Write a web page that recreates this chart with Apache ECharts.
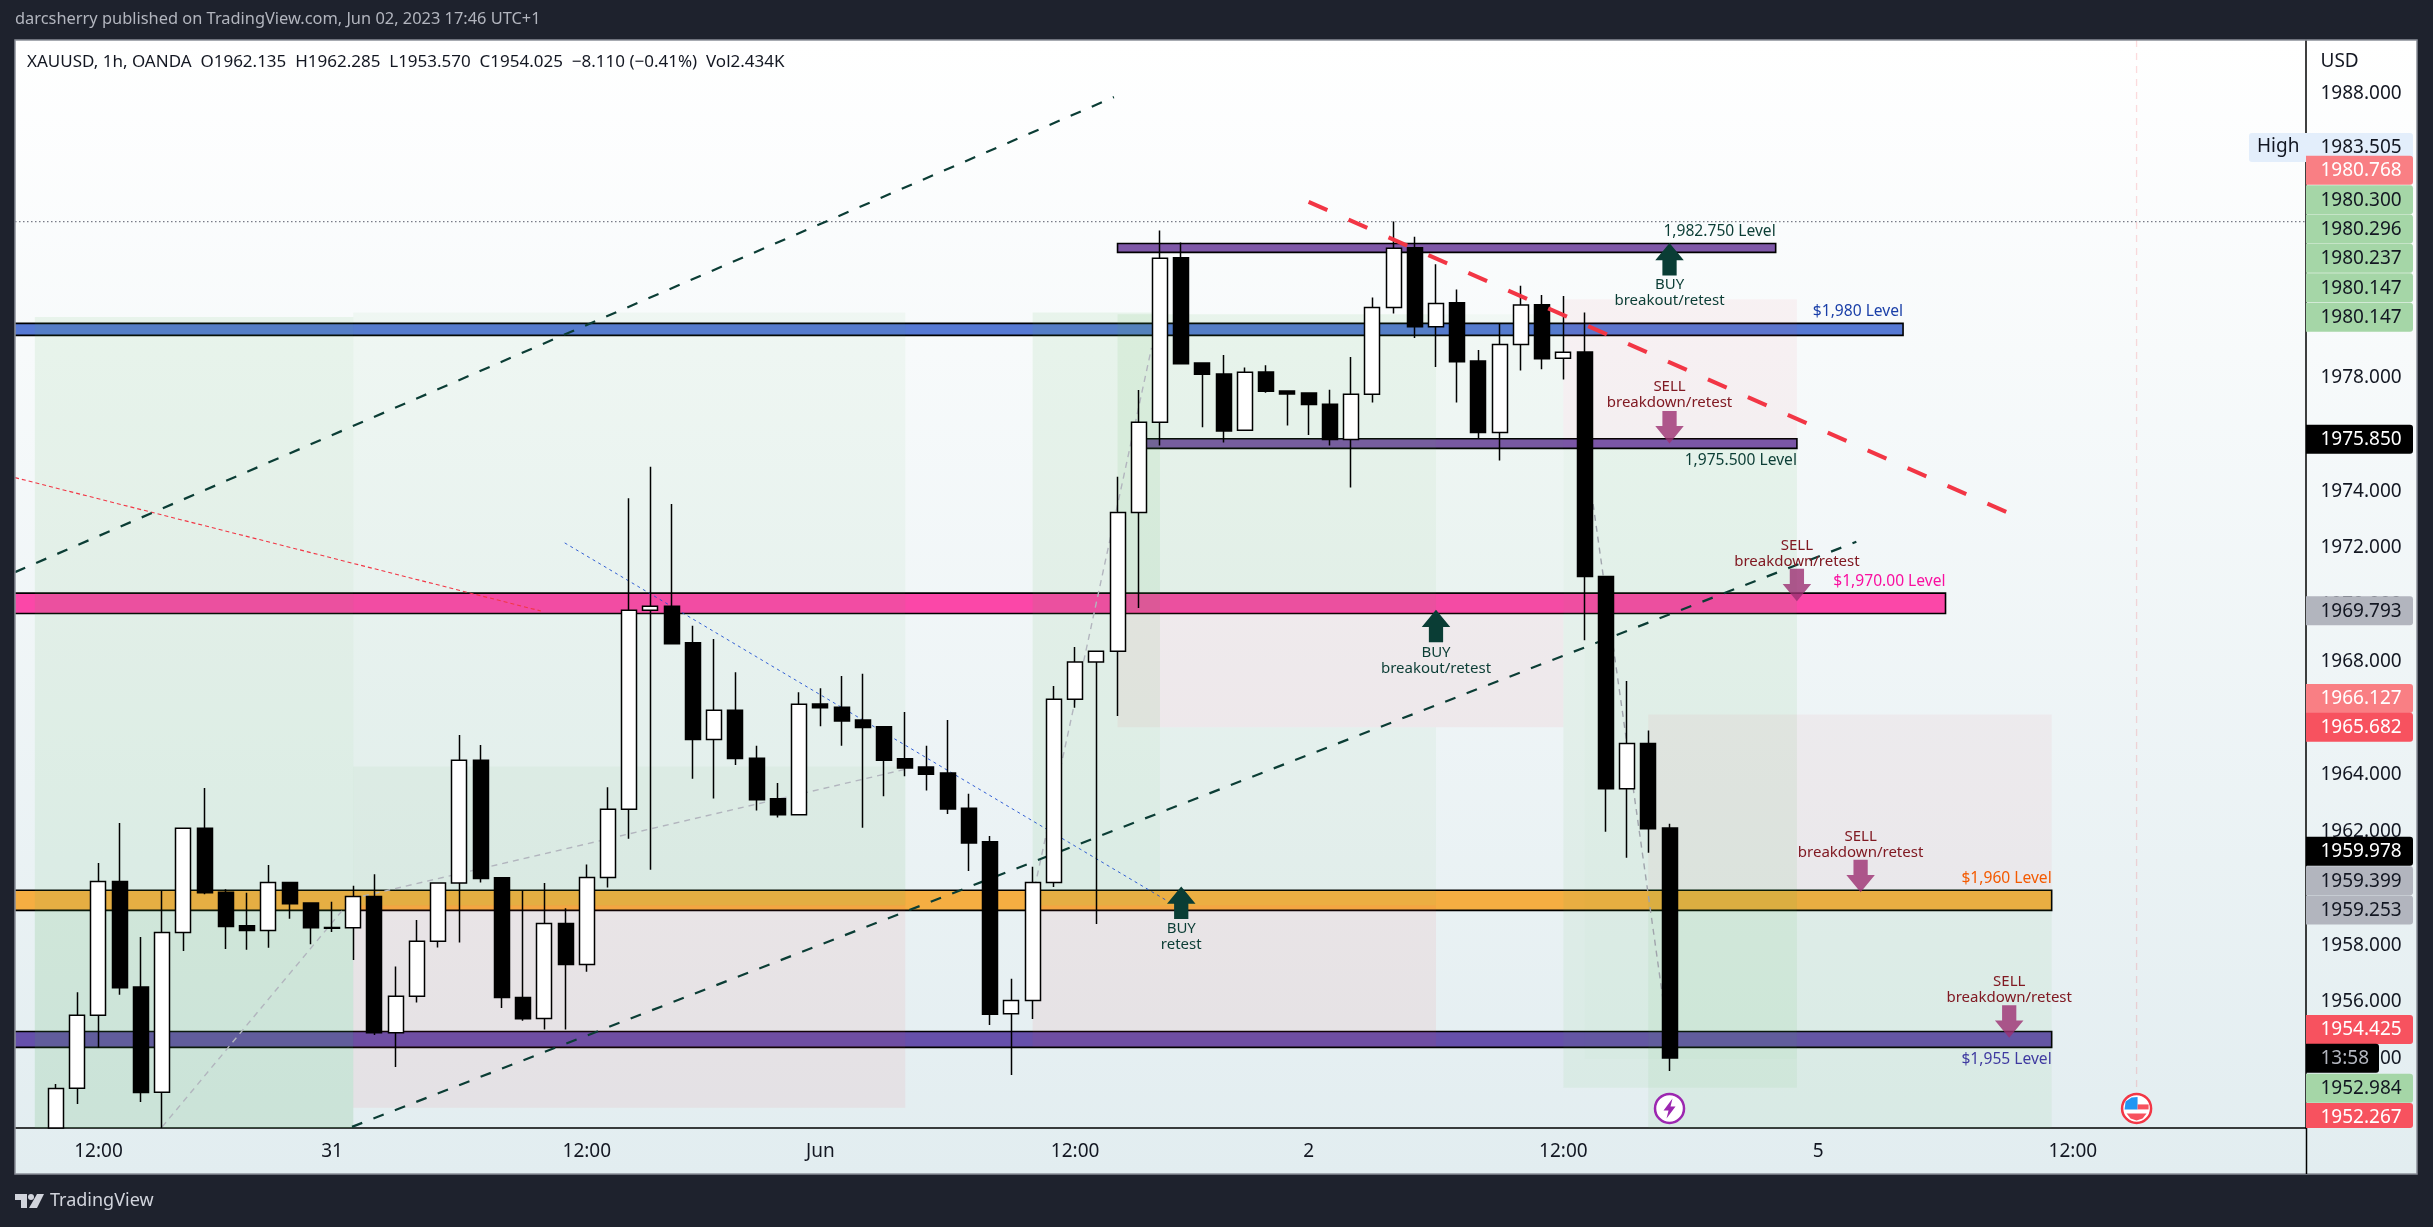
<!DOCTYPE html>
<html><head><meta charset="utf-8">
<style>html,body{margin:0;padding:0;background:#1e222d}#c{width:2433px;height:1227px}</style>
<script src="https://cdn.jsdelivr.net/npm/echarts@6/dist/echarts.min.js"></script>
</head><body><div id="c"></div>
<script>
// ---- candles (hour index, 0 = 12:00 on May 30) ----
const candleIndex=[-2,-1,0,1,2,3,4,5,6,7,8,9,10,11,12,13,14,15,16,17,18,19,20,21,22,23,24,25,26,27,28,29,30,31,32,33,34,35,36,37,38,39,40,41,42,43,44,45,46,47,48,49,50,51,52,53,54,55,56,57,58,59,60,61,62,63,64,65,66,67,68,69,70,71,72,73,74];
const opens=[1951.56,1952.96,1955.53,1960.25,1956.53,1952.82,1958.45,1962.12,1959.87,1958.69,1958.52,1960.21,1959.49,1958.63,1958.62,1959.72,1954.92,1956.2,1958.14,1960.19,1964.52,1960.38,1956.16,1955.42,1958.77,1957.32,1960.39,1962.79,1969.81,1969.95,1968.66,1965.25,1966.28,1964.59,1963.16,1962.6,1966.5,1966.39,1965.94,1965.7,1964.57,1964.28,1964.07,1962.83,1961.65,1955.59,1956.05,1960.21,1966.67,1967.98,1968.36,1973.25,1976.43,1982.23,1978.52,1978.13,1976.15,1978.2,1977.53,1977.46,1977.07,1975.82,1977.42,1980.48,1982.58,1979.8,1980.64,1978.59,1976.07,1979.17,1980.57,1978.69,1978.91,1971.0,1963.52,1965.11,1962.135];
const closes=[1952.955,1955.53,1960.25,1956.5,1952.81,1958.45,1962.12,1959.85,1958.66,1958.52,1960.21,1959.46,1958.62,1958.6,1959.72,1954.92,1956.2,1958.14,1960.19,1964.52,1960.35,1956.16,1955.41,1958.77,1957.32,1960.39,1962.79,1969.81,1969.95,1968.63,1965.25,1966.28,1964.58,1963.13,1962.6,1966.49,1966.37,1965.9,1965.67,1964.52,1964.25,1964.03,1962.8,1961.6,1955.57,1956.05,1960.21,1966.67,1967.98,1968.36,1973.25,1976.43,1982.21,1978.49,1978.12,1976.12,1978.19,1977.52,1977.43,1977.06,1975.82,1977.42,1980.48,1982.56,1979.8,1980.62,1978.56,1976.07,1979.17,1980.56,1978.67,1978.9,1971.0,1963.52,1965.11,1962.11,1954.025];
const lows=[1951.56,1952.41,1954.39,1956.26,1952.48,1951.56,1957.8,1959.8,1957.87,1957.84,1957.91,1958.93,1958.04,1958.47,1957.48,1954.84,1953.71,1955.98,1957.92,1958.1,1960.21,1955.79,1955.34,1955.03,1955.03,1957.07,1960.04,1961.75,1960.66,1968.63,1963.87,1963.17,1964.35,1962.75,1962.5,1962.6,1965.72,1965.03,1962.14,1963.25,1963.96,1963.45,1962.63,1960.62,1955.19,1953.43,1955.4,1960.05,1966.37,1958.75,1966.08,1969.89,1975.61,1978.49,1976.26,1975.72,1976.15,1977.47,1976.32,1975.98,1975.61,1974.13,1977.13,1980.26,1979.4,1978.38,1977.13,1975.87,1975.08,1978.26,1978.3,1977.94,1968.75,1962.0,1961.08,1961.26,1953.57];
const highs=[1953.11,1956.34,1960.9,1962.31,1958.29,1959.91,1962.12,1963.54,1959.97,1959.85,1960.83,1960.21,1959.49,1959.53,1960.1,1960.5,1957.25,1958.89,1960.19,1965.41,1965.06,1960.38,1959.91,1960.19,1959.3,1960.85,1963.57,1973.75,1974.86,1973.55,1969.26,1968.79,1967.62,1965.03,1963.72,1966.92,1967.06,1967.49,1967.57,1965.7,1966.22,1965.03,1965.94,1963.34,1961.85,1956.82,1960.77,1967.14,1968.51,1968.36,1974.51,1977.57,1983.19,1982.77,1978.52,1978.8,1978.36,1978.44,1977.53,1977.49,1977.58,1978.73,1980.83,1983.505,1982.97,1982.0,1981.11,1978.98,1979.89,1981.24,1980.92,1980.88,1980.3,1971.0,1967.31,1965.57,1962.285];

// ---- axes ----
const xMin=-3.933, xMax=103.98, yMin=1951.56, yMax=1989.903;
const timeTickIndex=[0,11,23,34,46,57,69,81,93];
const timeTickLabels=['12:00','31','12:00','Jun','12:00','2','12:00','5','12:00'];
const priceTicks=[1954,1956,1958,1960,1962,1964,1966,1968,1970,1972,1974,1976,1978,1980,1982,1984,1986,1988];

// ---- price tags on the right scale (text, position on scale) ----
const tagTexts=['1983.505','1980.768','1980.300','1980.296','1980.237','1980.147','1980.147','1975.850','1969.793','1966.127','1965.682','1959.978','1959.399','1959.253','1954.425','13:58','1952.984','1952.267'];
const tagPositions=[1986.115,1985.31,1984.275,1983.24,1982.21,1981.17,1980.13,1975.83,1969.79,1966.7,1965.68,1961.31,1960.27,1959.24,1955.03,1954.02,1952.96,1951.93];
const tagKinds=['high','pale','green','green','green','green','green','black','gray','pale','red','black','gray','gray','red','timer','green','red'];

// ---- zones: [from index, to index, top price, bottom price] ----
const greenZones=[[-3,12,1980.14,1950],[-3,12,1959.25,1950],[12,38,1980.3,1959.4],[12,38,1964.3,1959.4],[44,50,1980.3,1959.4],[48,63,1980.24,1969.79],[63,69,1980.24,1969.79],[50,63,1965.68,1959.4],[69,80,1975.5,1952.98],[70,80,1975.5,1954.0],[73,92,1959.98,1950]];
const greenAlpha=[.09,.07,.05,.05,.09,.09,.04,.05,.065,.015,.065];
const redZones=[[12,38,1959.4,1952.27],[44,63,1959.4,1954.42],[48,69,1969.79,1965.68],[69,80,1980.77,1975.85],[73,92,1966.13,1959.98]];
const redAlpha=[.07,.07,.06,.05,.05];

// ---- level bands ----
const levelBands=[[-6,85,1979.915,1979.495],[-6,87,1970.41,1969.69],[-6,92,1959.94,1959.23],[-6,92,1954.96,1954.4],[48,79,1982.73,1982.42],[49,80,1975.85,1975.51]];
const bandColors=['#5679d4','#fb47a8','#f5ae42','#6650ab','#7f58a8','#7a56a6'];

// ---- trend lines ----
const channelLower=[[11.94,1951.6],[82.8,1972.22]];
const channelUpper=[[-3.93,1971.15],[47.83,1987.89]];
const resistanceLine=[[57,1984.2],[90.04,1973.21]];
const thinRedLine=[[-3.93,1974.48],[20.84,1969.78]];
const thinBlueLine=[[21.96,1972.18],[50.33,1959.57]];
const grayLeg1=[[3,1951.6],[11.94,1959.64],[38,1964.2]];
const grayLeg2=[[44.1,1960.05],[49.6,1979.05]];
const grayLeg3=[[70.4,1973.55],[73.9,1955]];
const highLine=[[xMin,1983.505],[xMax,1983.505]];
const eventLine=[[96,yMax],[96,1952.9]];

// ---- arrows and notes ----
const upArrows=[[51,1959.5],[63,1969.25],[74,1982.18]];
const downArrows=[[74,1976.26],[80,1970.7],[83,1960.44],[90,1955.31]];
const noteTexts=['BUY\nretest','BUY\nbreakout/retest','BUY\nbreakout/retest','SELL\nbreakdown/retest','SELL\nbreakdown/retest','SELL\nbreakdown/retest','SELL\nbreakdown/retest'];
const notePositions=[[51,1958.36],[63,1968.09],[74,1981.06],[74,1977.46],[80,1971.85],[83,1961.6],[90,1956.47]];
const noteColors=['#0b3d35','#0b3d35','#0b3d35','#801922','#801922','#801922','#801922'];
const levelTexts=['1,982.750 Level','$1,980 Level','1,975.500 Level','$1,970.00 Level','$1,960 Level','$1,955 Level'];
const levelTextPositions=[[79,1983.2],[85,1980.4],[80,1975.12],[87,1970.88],[92,1960.42],[92,1954.01]];
const levelTextColors=['#0b3d35','#1a3fa8','#0b3d35','#f90fa0','#f45a00','#3f3aa0'];
const eventMarks=[[74,1952.25],[96,1952.25]];

const FONT='"Noto Sans"';
const TAGSTYLE={high:['#e3eefb','#131722'],pale:['#f97f84','#ffffff'],green:['#a5d6a7','#131722'],black:['#000000','#ffffff'],gray:['#b2b5be','#131722'],red:['#f7525f','#ffffff'],timer:['#000000','#b2b5be']};

function rectRender(fill,stroke){
  return function(params,api){
    const a=api.coord([api.value(0),api.value(2)]),b=api.coord([api.value(1),api.value(3)]);
    return {type:'rect',shape:{x:a[0],y:a[1],width:b[0]-a[0],height:b[1]-a[1]},
      style:{fill:fill(params.dataIndex),stroke:stroke?stroke:null,lineWidth:stroke?1.6:0}};
  };
}
function textRender(texts,colors,align,size,lh){
  return function(params,api){
    const p=api.coord([api.value(0),api.value(1)]);
    return {type:'text',x:p[0],y:p[1]+1.5,style:{text:texts[params.dataIndex],fill:colors[params.dataIndex],
      fontFamily:FONT,fontSize:size,lineHeight:lh,align:align,verticalAlign:'middle'}};
  };
}
function tagRender(params,api){
  const i=params.dataIndex,p=api.coord([xMax,api.value(1)]);
  const kind=tagKinds[i],st=TAGSTYLE[kind];
  const bottom=api.coord([xMax,yMin])[1];
  const top=p[1]-14.5,h=Math.min(29,bottom-top);
  const left=kind==='high'?p[0]-57:p[0];
  const width=(kind==='timer'?73:107)+(kind==='high'?57:0);
  const kids=[{type:'rect',shape:{x:left,y:top,width:width,height:h,r:kind==='high'?[3,3,3,3]:[0,3,3,0]},style:{fill:st[0]}},
   {type:'text',x:p[0]+14.5,y:p[1]+.5,style:{text:tagTexts[i],fill:st[1],fontFamily:FONT,fontSize:19,align:'left',verticalAlign:'middle'}}];
  if(kind==='high')kids.push({type:'text',x:left+8,y:p[1]-.5,style:{text:'High',fill:'#131722',fontFamily:FONT,fontSize:19,align:'left',verticalAlign:'middle'}});
  return {type:'group',children:kids};
}
function eventRender(params,api){
  const p=api.coord([api.value(0),api.value(1)]),x=p[0],y=p[1];
  if(params.dataIndex===0){
    return {type:'group',x:x,y:y,children:[
      {type:'circle',shape:{cx:0,cy:0,r:14.5},style:{fill:'#fff',stroke:'#9c27b0',lineWidth:2.5}},
      {type:'polygon',shape:{points:[[3,-10],[-6,2],[-1,2],[-3,10],[6,-2],[1,-2]]},style:{fill:'#9c27b0'}}]};
  }
  return {type:'group',x:x,y:y,children:[
    {type:'circle',shape:{cx:0,cy:0,r:14.5},style:{fill:'#fff',stroke:'#f23645',lineWidth:2.5}},
    {type:'polygon',shape:{points:[[-11,-7],[-5,-11],[1,-11.5],[1,1],[-12,1]]},style:{fill:'#2196f3'}},
    {type:'rect',shape:{x:1,y:-4,width:11,height:5},style:{fill:'#f7525f'}},
    {type:'polygon',shape:{points:[[-10,5],[10,5],[6,10],[0,12],[-6,10]]},style:{fill:'#f7525f'}}]};
}
function lineSeries(data,color,width,dash,z){
  return {type:'line',data:data,symbol:'none',silent:true,z:z,clip:true,animation:false,
    lineStyle:{color:color,width:width,type:dash,cap:'butt'}};
}
const UP_ARROW='path://M14 0L28 17L21 17L21 32L7 32L7 17L0 17Z';
const DOWN_ARROW='path://M7 0L21 0L21 15L28 15L14 32L0 15L7 15Z';

const panel={l:15,t:40,r:2417,b:1174,ax:2306,ay:1128};
const option={
  animation:false,
  backgroundColor:'#1e222d',
  title:[
    {text:'darcsherry published on TradingView.com, Jun 02, 2023 17:46 UTC+1',left:15,top:11,textStyle:{color:'#b2b5be',fontFamily:FONT,fontSize:16.4,fontWeight:'normal'},padding:0},
    {text:'XAUUSD, 1h, OANDA  O1962.135  H1962.285  L1953.570  C1954.025  \u22128.110 (\u22120.41%)  Vol2.434K',left:27,top:54,textStyle:{color:'#131722',fontFamily:FONT,fontSize:17,fontWeight:'normal'},padding:0},
    {text:'USD',left:2320.5,top:52,textStyle:{color:'#131722',fontFamily:FONT,fontSize:19,fontWeight:'normal'},padding:0},
    {text:'TradingView',left:50,top:1192,textStyle:{color:'#d1d4dc',fontFamily:FONT,fontSize:18,fontWeight:'normal'},padding:0}
  ],
  grid:{left:panel.l,right:2433-panel.ax,top:panel.t,bottom:1227-panel.ay,containLabel:false},
  graphic:[
    {type:'rect',z:-10,silent:true,shape:{x:panel.l,y:panel.t,width:panel.r-panel.l,height:panel.b-panel.t},
     style:{fill:new echarts.graphic.LinearGradient(0,0,0,1,[{offset:0,color:'#ffffff'},{offset:1,color:'#e2edf0'}])}},
    {type:'rect',z:50,silent:true,shape:{x:panel.l,y:panel.t,width:panel.r-panel.l,height:panel.b-panel.t},
     style:{fill:null,stroke:'#8a8e98',lineWidth:1.5}},
    {type:'line',z:50,silent:true,shape:{x1:panel.ax+.5,y1:panel.ay,x2:panel.ax+.5,y2:panel.b},style:{stroke:'#000',lineWidth:1.5}},
    {type:'group',x:15,y:1194,silent:true,children:[
      {type:'polygon',shape:{points:[[0,0],[12,0],[12,14],[6,14],[6,6],[0,6]]},style:{fill:'#d1d4dc'}},
      {type:'circle',shape:{cx:16,cy:3,r:3},style:{fill:'#d1d4dc'}},
      {type:'polygon',shape:{points:[[22,0],[29,0],[22,14],[14,14]]},style:{fill:'#d1d4dc'}}
    ]}
  ],
  xAxis:{type:'value',min:xMin,max:xMax,scale:true,
    axisLine:{show:true,onZero:false,lineStyle:{color:'#000',width:1.5}},axisTick:{show:false},splitLine:{show:false},
    axisLabel:{customValues:timeTickIndex,margin:14,color:'#131722',fontFamily:FONT,fontSize:19,
      formatter:v=>{const k=timeTickIndex.indexOf(v);return k<0?'':timeTickLabels[k];}}},
  yAxis:{type:'value',position:'right',min:yMin,max:yMax,scale:true,
    axisLine:{show:true,onZero:false,lineStyle:{color:'#000',width:1.5}},axisTick:{show:false},splitLine:{show:false},
    axisLabel:{customValues:priceTicks,margin:14.5,color:'#131722',fontFamily:FONT,fontSize:19,padding:[3,0,0,0],formatter:v=>v.toFixed(3)}},
  series:[
    {type:'custom',name:'bands',z:2,clip:true,silent:true,data:levelBands,renderItem:rectRender(i=>bandColors[i],'#000')},
    {type:'custom',name:'greenZones',z:3,clip:true,silent:true,data:greenZones,renderItem:rectRender(i=>'rgba(76,175,80,'+greenAlpha[i]+')')},
    {type:'custom',name:'redZones',z:3,clip:true,silent:true,data:redZones,renderItem:rectRender(i=>'rgba(242,54,69,'+redAlpha[i]+')')},
    lineSeries(highLine,'#787b86',1.2,[1.5,2.5],4),
    lineSeries(eventLine,'rgba(242,54,69,.18)',1.3,[7,6],4),
    lineSeries(thinRedLine,'#f23645',1.1,[4,3],4),
    lineSeries(thinBlueLine,'#1e4fd0',0.9,[3,3.5],4),
    lineSeries(grayLeg1,'#b2b5be',1.4,[6,5],4),
    lineSeries(grayLeg2,'#b2b5be',1.4,[6,5],4),
    lineSeries(grayLeg3,'#a0a4ac',1.4,[6,5],4),
    lineSeries(channelLower,'#0b3d35',2.2,[11,12],5),
    lineSeries(channelUpper,'#0b3d35',2.2,[11,12],5),
    {type:'candlestick',name:'XAUUSD',z:6,clip:true,silent:true,barWidth:15.5,
      data:candleIndex.map((x,i)=>[x,opens[i],closes[i],lows[i],highs[i]]),
      itemStyle:{color:'#ffffff',color0:'#000000',borderColor:'#000000',borderColor0:'#000000',borderColorDoji:'#000000',borderWidth:1.5}},
    lineSeries(resistanceLine,'#f23645',4,[20.5,23.2],7),
    {type:'scatter',z:8,silent:true,data:upArrows,symbol:UP_ARROW,symbolSize:[28.5,32.5],itemStyle:{color:'#0a3d35',opacity:1}},
    {type:'scatter',z:8,silent:true,data:downArrows,symbol:DOWN_ARROW,symbolSize:[28.5,32.5],itemStyle:{color:'#9c2f72',opacity:.8}},
    {type:'custom',name:'notes',z:9,clip:false,silent:true,data:notePositions,renderItem:textRender(noteTexts,noteColors,'center',15,16)},
    {type:'custom',name:'levelTexts',z:9,clip:false,silent:true,data:levelTextPositions,renderItem:textRender(levelTexts,levelTextColors,'right',15.6,16)},
    {type:'custom',name:'events',z:10,clip:false,silent:true,data:eventMarks,renderItem:eventRender},
    {type:'custom',name:'tags',z:20,clip:false,silent:true,data:tagPositions.map(p=>[xMax,p]),renderItem:tagRender}
  ]
};
const chart=echarts.init(document.getElementById('c'),null,{renderer:'canvas',width:2433,height:1227});
chart.setOption(option);
</script></body></html>
